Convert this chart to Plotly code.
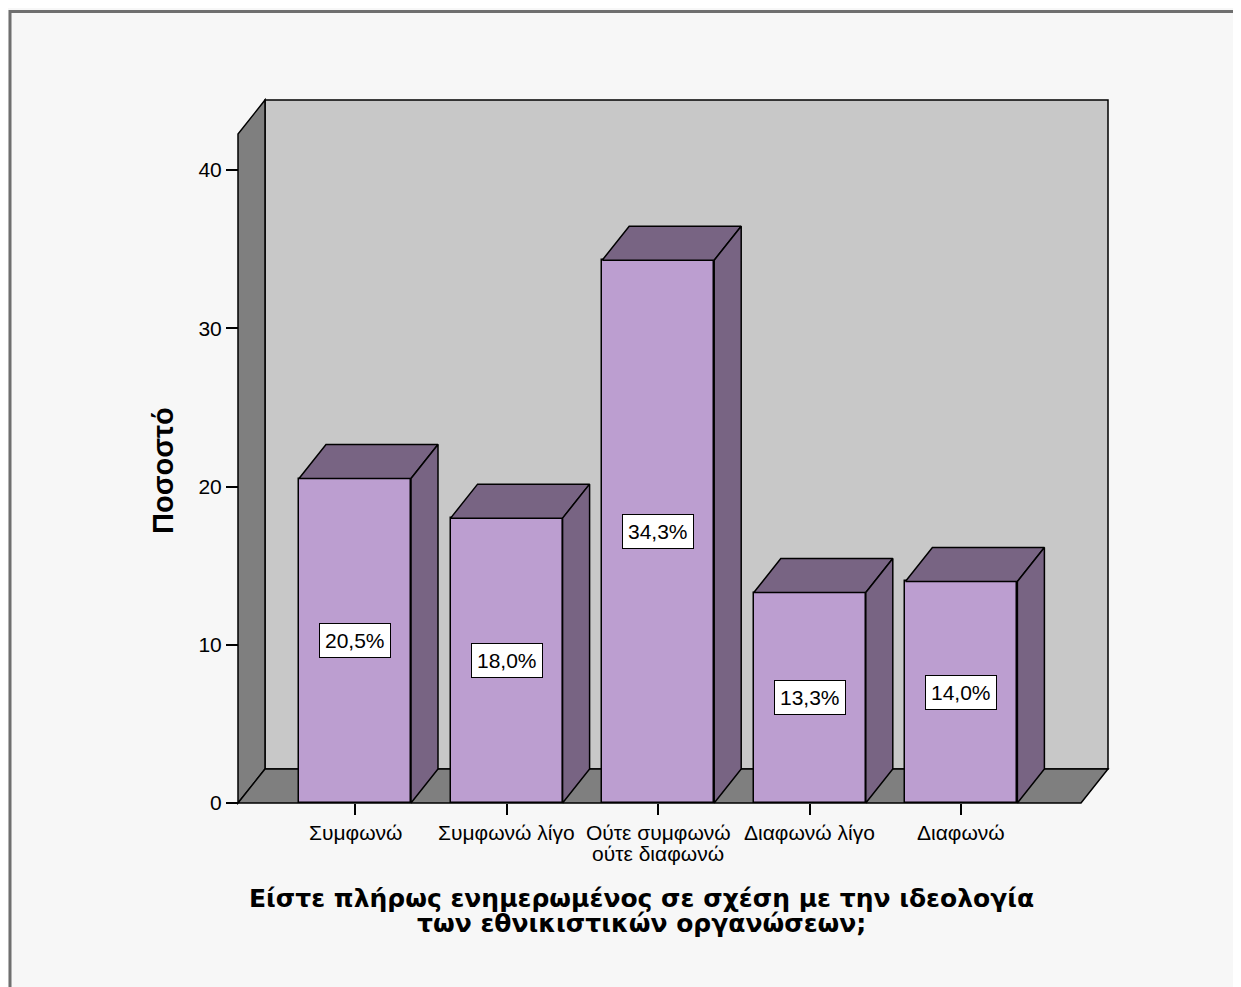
import plotly.graph_objects as go

# ---------------- data ----------------
categories = ["Συμφωνώ", "Συμφωνώ λίγο", "Ούτε συμφωνώ<br>ούτε διαφωνώ", "Διαφωνώ λίγο", "Διαφωνώ"]
values = [20.5, 18.0, 34.3, 13.3, 14.0]
value_labels = ["20,5%", "18,0%", "34,3%", "13,3%", "14,0%"]
y_ticks = [0, 10, 20, 30, 40]
x_title_lines = ["Είστε πλήρως ενημερωμένος σε σχέση με την ιδεολογία",
                 "των εθνικιστικών οργανώσεων;"]
y_title = "Ποσοστό"

# ---------------- layout geometry (window pixels) ----------------
OFF = 8                                  # page body margin
W, H = 1233, 979                         # figure size
L, R, T, B = 228, 1115, 92, 812          # plot area in window pixels
CX0, PX_CAT = 355.0, 151.6               # pixel of category 0, pixels per category
PY0, PX_UNIT = 803.0, 15.825             # pixel of y=0, pixels per percent unit


def x_at(px):
    return (px - CX0) / PX_CAT


def y_at(py):
    return (PY0 - py) / PX_UNIT


def px_paper(px):
    return (px - L) / (R - L)


def py_paper(py):
    return (B - py) / (B - T)


XF_LEFT = x_at(238)       # front-left of floor / left wall
XF_RIGHT = x_at(1081)     # front-right of floor
DX = 27 / PX_CAT          # depth offset
DY = 34 / PX_UNIT
WALL_TOP = y_at(134)
BAR_W = 112 / PX_CAT

BG = "#f7f7f7"
WALL_BACK = "#c8c8c8"
WALL_DARK = "#7f7f7f"
BAR_FRONT = "#bc9ed0"
BAR_DARK = "#786483"
EDGE = dict(color="black", width=1.5)

fig = go.Figure()

shapes = []
# back wall
shapes.append(dict(type="path", xref="x", yref="y", layer="below",
                   path=f"M{XF_LEFT+DX},{DY} L{XF_RIGHT+DX},{DY} L{XF_RIGHT+DX},{WALL_TOP+DY} L{XF_LEFT+DX},{WALL_TOP+DY} Z",
                   fillcolor=WALL_BACK, line=EDGE))
# left wall
shapes.append(dict(type="path", xref="x", yref="y", layer="below",
                   path=f"M{XF_LEFT},0 L{XF_LEFT},{WALL_TOP} L{XF_LEFT+DX},{WALL_TOP+DY} L{XF_LEFT+DX},{DY} Z",
                   fillcolor=WALL_DARK, line=EDGE))
# floor
shapes.append(dict(type="path", xref="x", yref="y", layer="below",
                   path=f"M{XF_LEFT},0 L{XF_RIGHT},0 L{XF_RIGHT+DX},{DY} L{XF_LEFT+DX},{DY} Z",
                   fillcolor=WALL_DARK, line=EDGE))
# outer frame
shapes.append(dict(type="rect", xref="paper", yref="paper",
                   x0=px_paper(10), x1=px_paper(1236), y0=py_paper(11.5), y1=py_paper(1010),
                   line=dict(color="#6f6f6f", width=3), fillcolor="rgba(0,0,0,0)"))

xs = list(range(len(categories)))

# front faces
fig.add_trace(go.Bar(x=xs, y=values, width=BAR_W, marker=dict(color=BAR_FRONT, line=EDGE),
                     hoverinfo="skip", showlegend=False))

# top and side faces
for i, v in zip(xs, values):
    xl, xr = i - BAR_W / 2, i + BAR_W / 2
    fig.add_trace(go.Scatter(x=[xl, xr, xr + DX, xl + DX, xl], y=[v, v, v + DY, v + DY, v],
                             mode="lines", fill="toself", fillcolor=BAR_DARK, line=EDGE,
                             hoverinfo="skip", showlegend=False))
    fig.add_trace(go.Scatter(x=[xr, xr + DX, xr + DX, xr, xr], y=[0, DY, v + DY, v, 0],
                             mode="lines", fill="toself", fillcolor=BAR_DARK, line=EDGE,
                             hoverinfo="skip", showlegend=False))

annotations = []
FONT = "Liberation Sans, Arial, sans-serif"
TITLE_FONT = "DejaVu Sans, Liberation Sans, sans-serif"
for i, v, lab in zip(xs, values, value_labels):
    annotations.append(dict(x=i, y=v / 2, xref="x", yref="y", text=lab, showarrow=False,
                            bgcolor="white", bordercolor="black", borderwidth=1, borderpad=5,
                            font=dict(family=FONT, size=21, color="black")))

# category labels
for i, cat in zip(xs, categories):
    lines = cat.split("<br>")
    for k, ln in enumerate(lines):
        annotations.append(dict(x=i, y=py_paper(833 + 20 * k), xref="x", yref="paper", text=ln,
                                showarrow=False, xanchor="center", yanchor="middle",
                                font=dict(family=FONT, size=21, color="black")))

for k, ln in enumerate(x_title_lines):
    annotations.append(dict(x=px_paper(641), y=py_paper(898 + 25 * k), xref="paper", yref="paper",
                            text=f"<b>{ln}</b>", showarrow=False, xanchor="center", yanchor="middle",
                            font=dict(family=TITLE_FONT, size=25, color="black")))

annotations.append(dict(x=px_paper(163), y=py_paper(471), xref="paper", yref="paper",
                        text=f"<b>{y_title}</b>", showarrow=False, textangle=-90,
                        xanchor="center", yanchor="middle",
                        font=dict(family=FONT, size=29, color="black")))

fig.update_layout(
    width=W, height=H,
    margin=dict(l=L - OFF, r=W - (R - OFF), t=T - OFF, b=H - (B - OFF), pad=0),
    paper_bgcolor=BG, plot_bgcolor=BG,
    shapes=shapes, annotations=annotations,
    bargap=0,
    xaxis=dict(range=[x_at(L), x_at(R)], anchor="free", position=py_paper(PY0),
               tickmode="array", tickvals=xs, ticktext=[""] * len(xs),
               ticks="outside", ticklen=11, tickwidth=1.5, tickcolor="black",
               showgrid=False, zeroline=False, showline=False, fixedrange=True),
    yaxis=dict(range=[y_at(B), y_at(T)], anchor="free", position=px_paper(238),
               tickmode="array", tickvals=y_ticks, ticktext=[str(t) for t in y_ticks],
               ticks="outside", ticklen=12, tickwidth=1.5, tickcolor="black",
               tickfont=dict(family=FONT, size=21, color="black"),
               showgrid=False, zeroline=False, showline=False, fixedrange=True),
)

fig.write_html("out.html")
